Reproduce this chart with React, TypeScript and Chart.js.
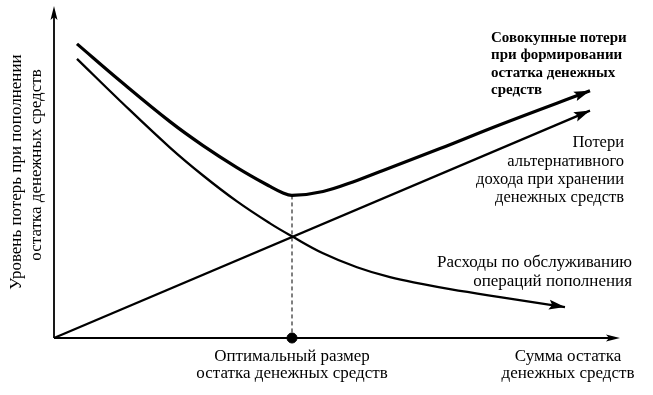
import React, { useEffect, useRef } from "react";
import { Chart, registerables } from "chart.js";

Chart.register(...registerables);

// Schematic values (arbitrary units, 0..100 on both axes)
const serviceX = [4.06, 11.66, 20.49, 26.33, 32.33, 38.16, 42.05, 47.53, 53.53, 59.36, 65.19, 69.96, 78.8, 90.28];
const serviceY = [84.08, 71.47, 57.36, 48.95, 41.14, 34.53, 30.63, 25.53, 21.32, 18.32, 16.22, 14.71, 12.31, 9.31];
const totalX = [4.06, 11.66, 20.49, 26.33, 32.33, 38.16, 40.28, 42.05, 47.53, 53.53, 58.13, 68.2, 78.8, 94.7];
const totalY = [88.59, 77.48, 65.17, 57.96, 51.35, 45.65, 43.84, 42.94, 44.14, 47.45, 50.45, 57.06, 64.26, 74.47];
const altX = [0, 94.7];
const altY = [0, 68.5];
const optimumX = 42.05;
const optimumY = 42.94;

const yAxisTitle = ["Уровень потерь при пополнении", "остатка денежных средств"];
const xAxisTitle = ["Сумма остатка", "денежных средств"];
const optimumLabel = ["Оптимальный размер", "остатка денежных средств"];
const totalLabel = ["Совокупные потери", "при формировании", "остатка денежных", "средств"];
const altLabel = ["Потери", "альтернативного", "дохода при хранении", "денежных средств"];
const serviceLabel = ["Расходы по обслуживанию", "операций пополнения"];

const toPoints = (xs: number[], ys: number[]) => xs.map((x, i) => ({ x, y: ys[i] }));

function arrowHead(ctx: CanvasRenderingContext2D, x: number, y: number, angle: number, len = 14, half = 4) {
  ctx.save();
  ctx.translate(x, y);
  ctx.rotate(angle);
  ctx.beginPath();
  ctx.moveTo(0, 0);
  ctx.lineTo(-len, -half);
  ctx.lineTo(-len + 3, 0);
  ctx.lineTo(-len, half);
  ctx.closePath();
  ctx.fillStyle = "#000";
  ctx.fill();
  ctx.restore();
}

const FONT = "'Liberation Serif', 'DejaVu Serif', serif";

const schemePlugin = {
  id: "scheme",
  beforeDatasetsDraw(chart: any) {
    const { ctx, chartArea } = chart;
    const { left, right, top, bottom } = chartArea;
    ctx.save();
    ctx.strokeStyle = "#000";
    ctx.lineWidth = 1.8;
    ctx.beginPath();
    ctx.moveTo(left, bottom);
    ctx.lineTo(left, top + 8);
    ctx.moveTo(left, bottom);
    ctx.lineTo(right - 8, bottom);
    ctx.stroke();
    arrowHead(ctx, left, top, -Math.PI / 2, 14, 3.5);
    arrowHead(ctx, right, bottom, 0, 14, 3.5);
    ctx.restore();
  },
  afterDatasetsDraw(chart: any) {
    const { ctx } = chart;
    ctx.save();
    chart.data.datasets.forEach((ds: any, i: number) => {
      if (!ds.arrow) return;
      const pts = chart.getDatasetMeta(i).data;
      const a = pts[pts.length - 2];
      const b = pts[pts.length - 1];
      const ang = Math.atan2(b.y - a.y, b.x - a.x);
      arrowHead(ctx, b.x, b.y, ang, 16, 5);
    });

    ctx.fillStyle = "#000";
    ctx.textBaseline = "middle";
    const lines = (arr: string[], x: number, y: number, lh: number, align: CanvasTextAlign, font: string) => {
      ctx.font = font;
      ctx.textAlign = align;
      arr.forEach((t, k) => ctx.fillText(t, x, y + k * lh));
    };
    const reg = `17px ${FONT}`;
    lines(optimumLabel, 292, 357, 17, "center", reg);
    lines(xAxisTitle, 568, 357, 17, "center", reg);
    lines(serviceLabel, 632, 263, 19, "right", reg);
    lines(altLabel, 624, 143, 18.3, "right", `16.5px ${FONT}`);
    lines(totalLabel, 491, 38, 17.5, "left", `bold 15px ${FONT}`);

    ctx.save();
    ctx.translate(17, 172);
    ctx.rotate(-Math.PI / 2);
    ctx.font = reg;
    ctx.textAlign = "center";
    ctx.fillText(yAxisTitle[0], 0, 0);
    ctx.fillText(yAxisTitle[1], 7, 20);
    ctx.restore();
    ctx.restore();
  },
};

export default function App() {
  const ref = useRef<HTMLCanvasElement>(null);
  useEffect(() => {
    document.body.style.margin = "0";
    const chart = new Chart(ref.current!, {
      type: "line",
      data: {
        datasets: [
          {
            data: toPoints(totalX, totalY),
            borderColor: "#000",
            borderWidth: 3.2,
            pointRadius: 0,
            tension: 0.4,
            fill: false,
            clip: false,
            arrow: true,
          } as any,
          {
            data: toPoints(altX, altY),
            borderColor: "#000",
            borderWidth: 2.3,
            pointRadius: 0,
            tension: 0,
            fill: false,
            clip: false,
            arrow: true,
          } as any,
          {
            data: toPoints(serviceX, serviceY),
            borderColor: "#000",
            borderWidth: 2.3,
            pointRadius: 0,
            tension: 0.4,
            fill: false,
            clip: false,
            arrow: true,
          } as any,
          {
            data: [
              { x: optimumX, y: optimumY },
              { x: optimumX, y: 0 },
            ],
            borderColor: "#000",
            borderWidth: 1,
            borderDash: [4, 3],
            pointRadius: 0,
            fill: false,
            clip: false,
          } as any,
          {
            type: "scatter",
            data: [{ x: optimumX, y: 0 }],
            backgroundColor: "#000",
            borderColor: "#000",
            pointRadius: 5,
            clip: false,
          } as any,
        ],
      },
      options: {
        responsive: false,
        animation: false,
        layout: { padding: { left: 54, right: 33, top: 5, bottom: 57 } },
        scales: {
          x: { type: "linear", min: 0, max: 100, display: false },
          y: { type: "linear", min: 0, max: 100, display: false },
        },
        plugins: { legend: { display: false }, tooltip: { enabled: false } },
        events: [],
      },
      plugins: [schemePlugin],
    });
    return () => chart.destroy();
  }, []);
  return (
    <div style={{ width: 653, height: 395, background: "#fff" }}>
      <canvas ref={ref} width={653} height={395} style={{ display: "block" }} />
    </div>
  );
}
